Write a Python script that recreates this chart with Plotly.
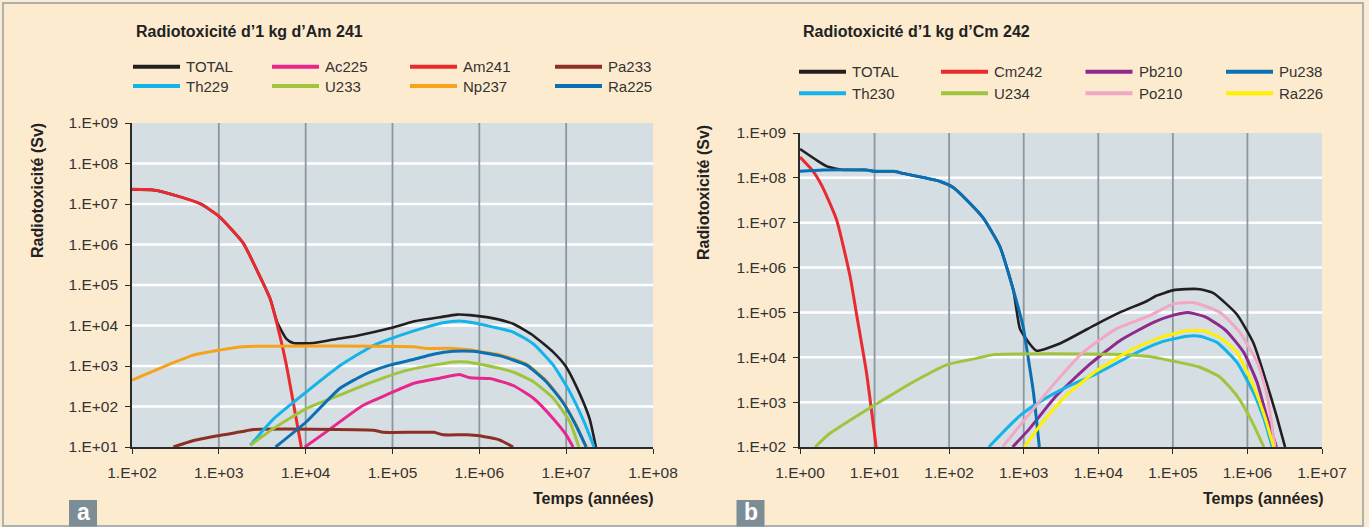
import math
import plotly.graph_objects as go

W, H = 1369, 527

# ---------------- Panel a : 1 kg Am 241 ----------------
A_TITLE = "Radiotoxicité d’1 kg d’Am 241"
A_XTICKS = [1e2, 1e3, 1e4, 1e5, 1e6, 1e7, 1e8]
A_XLABELS = ["1.E+02", "1.E+03", "1.E+04", "1.E+05", "1.E+06", "1.E+07", "1.E+08"]
A_YTICKS = [1e1, 1e2, 1e3, 1e4, 1e5, 1e6, 1e7, 1e8, 1e9]
A_YLABELS = ["1.E+01", "1.E+02", "1.E+03", "1.E+04", "1.E+05", "1.E+06", "1.E+07", "1.E+08", "1.E+09"]

A_TOTAL_t = [1.0e2, 1.8e2, 3.6e2, 6.2e2, 1.0e3, 1.9e3, 2.75e3, 3.9e3, 4.7e3, 6.0e3, 7.2e3, 1.23e4, 2.1e4,
             3.9e4, 9.3e4, 1.74e5, 3.5e5, 5.5e5, 7.8e5, 1.45e6, 2.45e6, 4.2e6, 7.1e6, 1.0e7, 1.4e7, 1.86e7, 2.2e7]
A_TOTAL_v = [2.3e7, 2.2e7, 1.5e7, 1.0e7, 5.0e6, 1.1e6, 2.3e5, 4.6e4, 1.2e4, 4.7e3, 3.7e3, 3.7e3, 4.5e3,
             5.6e3, 8.5e3, 1.26e4, 1.6e4, 1.86e4, 1.8e4, 1.5e4, 1.1e4, 5.6e3, 2.2e3, 9.5e2, 2.3e2, 50, 10]

A_AC225_t = [9.8e3, 1.74e4, 4.6e4, 9.3e4, 1.74e5, 3.5e5, 5.9e5, 7.8e5, 1.32e6, 2.45e6, 4.2e6, 7.1e6, 1.0e7, 1.2e7]
A_AC225_v = [10, 24, 107, 210, 370, 500, 620, 510, 490, 330, 160, 50, 20, 10]

A_AM241_t = [1.0e2, 1.8e2, 3.6e2, 6.2e2, 1.0e3, 1.9e3, 2.75e3, 3.9e3, 5.1e3, 6.0e3, 8.9e3]
A_AM241_v = [2.3e7, 2.2e7, 1.5e7, 1.0e7, 5.0e6, 1.1e6, 2.3e5, 4.5e4, 5.1e3, 1.05e3, 10]

A_PA233_t = [3.0e2, 4.6e2, 9.3e2, 1.86e3, 2.5e3, 6.0e4, 7.8e4, 3.0e5, 3.8e5, 7.1e5, 1.0e6, 1.7e6, 2.45e6]
A_PA233_v = [10, 13.5, 18.6, 24, 27, 26, 23, 23, 20, 20, 19, 15, 10]

A_TH229_t = [2.3e3, 4.3e3, 1.02e4, 2.45e4, 6.0e4, 1.2e5, 2.45e5, 3.8e5, 5.9e5, 8.5e5, 1.45e6, 2.45e6,
             4.2e6, 7.1e6, 1.1e7, 1.55e7, 2.1e7]
A_TH229_v = [11, 50, 230, 1.0e3, 3.2e3, 5.6e3, 9.1e3, 1.17e4, 1.29e4, 1.17e4, 9.1e3, 6.9e3,
             3.5e3, 1.05e3, 230, 50, 10]

A_U233_t = [2.3e3, 4.3e3, 1.02e4, 2.45e4, 6.0e4, 1.45e5, 2.95e5, 5.0e5, 7.1e5, 1.1e6, 2.45e6, 4.2e6,
            7.1e6, 1.1e7, 1.4e7]
A_U233_v = [11, 29, 89, 190, 410, 780, 1.05e3, 1.26e3, 1.26e3, 1.07e3, 710, 410, 160, 42, 10]

A_NP237_t = [1.0e2, 2.9e2, 5.1e2, 1.0e3, 1.9e3, 1.74e5, 2.45e5, 4.2e5, 8.5e5, 1.1e6, 1.7e6, 3.5e6,
             5.9e6, 9.1e6, 1.29e7, 1.7e7]
A_NP237_v = [450, 1.17e3, 1.86e3, 2.45e3, 3.0e3, 3.0e3, 2.7e3, 2.75e3, 2.45e3, 2.2e3, 1.9e3, 1.1e3,
             430, 135, 36, 10]

A_RA225_t = [4.5e3, 1.02e4, 2.45e4, 5.0e4, 9.3e4, 1.74e5, 2.95e5, 5.0e5, 8.5e5, 1.7e6, 3.5e6, 5.9e6,
             9.1e6, 1.29e7, 1.7e7]
A_RA225_v = [10, 42, 275, 650, 1.05e3, 1.45e3, 1.95e3, 2.3e3, 2.3e3, 1.8e3, 1.05e3, 410, 129, 35, 10]

A_NAMES = ["TOTAL", "Ac225", "Am241", "Pa233", "Th229", "U233", "Np237", "Ra225"]
A_COLORS = ["#231f20", "#e8268e", "#ea2a2f", "#8e2f25", "#14b4ea", "#a1c43e", "#f7a21b", "#0b6fb3"]
A_SERIES = [(A_TOTAL_t, A_TOTAL_v), (A_AC225_t, A_AC225_v), (A_AM241_t, A_AM241_v), (A_PA233_t, A_PA233_v),
            (A_TH229_t, A_TH229_v), (A_U233_t, A_U233_v), (A_NP237_t, A_NP237_v), (A_RA225_t, A_RA225_v)]

# ---------------- Panel b : 1 kg Cm 242 ----------------
B_TITLE = "Radiotoxicité d’1 kg d’Cm 242"
B_XTICKS = [1e0, 1e1, 1e2, 1e3, 1e4, 1e5, 1e6, 1e7]
B_XLABELS = ["1.E+00", "1.E+01", "1.E+02", "1.E+03", "1.E+04", "1.E+05", "1.E+06", "1.E+07"]
B_YTICKS = [1e2, 1e3, 1e4, 1e5, 1e6, 1e7, 1e8, 1e9]
B_YLABELS = ["1.E+02", "1.E+03", "1.E+04", "1.E+05", "1.E+06", "1.E+07", "1.E+08", "1.E+09"]

B_TOTAL_t = [1, 1.6, 2.3, 3.8, 7.8, 10, 18, 24, 45, 76, 112, 209, 288, 479, 724, 891, 1.2e3, 1.48e3, 3.0e3,
             9.5e3, 1.95e4, 4.5e4, 6.0e4, 1.0e5, 1.5e5, 2.3e5, 3.5e5, 7.2e5, 1.2e6, 1.8e6, 2.45e6, 3.2e6]
B_TOTAL_v = [4.4e8, 2.6e8, 1.8e8, 1.5e8, 1.5e8, 1.4e8, 1.4e8, 1.26e8, 1.02e8, 8.3e7, 6.2e7, 2.3e7, 1.26e7,
             2.95e6, 3.2e5, 4.3e4, 2.0e4, 1.4e4, 2.0e4, 5.5e4, 1.0e5, 1.8e5, 2.35e5, 3.1e5, 3.3e5, 3.3e5,
             2.7e5, 9.1e4, 2.1e4, 2.75e3, 500, 100]

B_CM242_t = [1, 1.5, 2.0, 3.1, 4.7, 5.8, 7.8, 10.5]
B_CM242_v = [2.9e8, 1.4e8, 6.3e7, 1.15e7, 6.3e5, 8.1e4, 4.5e3, 100]

B_PB210_t = [7.1e2, 1.2e3, 2.75e3, 7.8e3, 1.95e4, 5.5e4, 1.02e5, 1.6e5, 2.8e5, 5.2e5, 8.9e5, 1.35e6, 1.8e6, 2.45e6]
B_PB210_v = [100, 257, 1.4e3, 7.1e3, 2.35e4, 6.0e4, 8.7e4, 1.0e5, 7.8e4, 3.9e4, 1.29e4, 2.75e3, 500, 100]

B_PU238_t = [1, 2.0, 7.8, 10, 18, 24, 45, 76, 112, 209, 288, 479, 724, 980, 1.12e3, 1.35e3, 1.62e3]
B_PU238_v = [1.4e8, 1.5e8, 1.5e8, 1.4e8, 1.4e8, 1.26e8, 1.02e8, 8.3e7, 6.2e7, 2.3e7, 1.26e7, 2.95e6,
             3.2e5, 4.9e4, 1.26e4, 1.66e3, 100]

B_TH230_t = [3.4e2, 4.8e2, 8.9e2, 1.62e3, 3.4e3, 9.5e3, 2.95e4, 6.8e4, 1.55e5, 2.3e5, 3.9e5, 7.2e5,
             1.2e6, 1.66e6, 2.15e6]
B_TH230_v = [100, 182, 500, 1.0e3, 2.0e3, 4.3e3, 1.17e4, 2.15e4, 2.95e4, 2.95e4, 2.15e4, 7.8e3,
             1.66e3, 430, 100]

B_U234_t = [1.6, 2.45, 6.3, 16, 32, 93, 209, 410, 1.45e4, 4.5e4, 7.4e4, 2.3e5, 4.3e5, 7.2e5, 1.1e6, 1.66e6]
B_U234_v = [100, 195, 540, 1.38e3, 2.75e3, 6.8e3, 9.1e3, 1.15e4, 1.17e4, 1.05e4, 9.1e3, 6.0e3, 3.6e3,
            1.4e3, 430, 100]

B_PO210_t = [5.2e2, 8.9e2, 2.25e3, 6.3e3, 1.74e4, 4.9e4, 1.02e5, 1.86e5, 4.3e5, 7.9e5, 1.35e6, 1.8e6, 2.35e6]
B_PO210_v = [100, 300, 2.0e3, 1.3e4, 4.3e4, 8.5e4, 1.55e5, 1.66e5, 1.0e5, 3.6e4, 7.8e3, 1.66e3, 100]

B_RA226_t = [1.02e3, 1.8e3, 3.7e3, 9.5e3, 2.95e4, 6.8e4, 1.55e5, 2.6e5, 4.3e5, 7.2e5, 1.2e6, 1.74e6, 2.25e6]
B_RA226_v = [100, 360, 1.4e3, 5.0e3, 1.55e4, 2.75e4, 3.9e4, 3.9e4, 2.75e4, 1.29e4, 2.35e3, 430, 100]

B_NAMES = ["TOTAL", "Cm242", "Pb210", "Pu238", "Th230", "U234", "Po210", "Ra226"]
B_COLORS = ["#231f20", "#ea2a2f", "#8f2a8c", "#0b6fb3", "#14b4ea", "#a1c43e", "#f2a7c5", "#fff000"]
B_SERIES = [(B_TOTAL_t, B_TOTAL_v), (B_CM242_t, B_CM242_v), (B_PB210_t, B_PB210_v), (B_PU238_t, B_PU238_v),
            (B_TH230_t, B_TH230_v), (B_U234_t, B_U234_v), (B_PO210_t, B_PO210_v), (B_RA226_t, B_RA226_v)]

Y_TITLE = "Radiotoxicité (Sv)"
X_TITLE = "Temps (années)"
PANEL_TAGS = ["a", "b"]

# ---------------- styling ----------------
CREAM = "#fdebd0"
PLOTBG = "#d5dee3"
VGRID = "#8b989f"
TXT = "#333333"
FONT = "Liberation Sans, Arial, sans-serif"
BORDER = "#8fa0aa"


def px(x):
    return x / W


def py(y):
    return 1 - y / H


fig = go.Figure()

for (t, v), name, col in zip(A_SERIES, A_NAMES, A_COLORS):
    fig.add_trace(go.Scatter(x=t, y=v, mode="lines", name=name, xaxis="x", yaxis="y", showlegend=False,
                             line=dict(color=col, width=2.6 if name == "TOTAL" else 3.0,
                                       shape="spline", smoothing=0.5)))
for (t, v), name, col in zip(B_SERIES, B_NAMES, B_COLORS):
    fig.add_trace(go.Scatter(x=t, y=v, mode="lines", name=name, xaxis="x2", yaxis="y2", showlegend=False,
                             line=dict(color=col, width=2.6 if name == "TOTAL" else 3.0,
                                       shape="spline", smoothing=0.5)))

# plot areas in pixels
A_BOX = (132, 653, 123, 447)
B_BOX = (800, 1322, 133, 447)

axis_common = dict(type="log", showgrid=False, zeroline=False, showline=True, linecolor="#2b2b2b",
                   linewidth=1.6, ticks="outside", ticklen=5, tickwidth=1.4, tickcolor="#2b2b2b",
                   tickmode="array", tickfont=dict(family=FONT, size=15.5, color=TXT), mirror=False,
                   automargin=False)

fig.update_layout(
    template="none",
    width=W, height=H, margin=dict(l=0, r=0, t=0, b=0, pad=0), autosize=False,
    paper_bgcolor=CREAM, plot_bgcolor=PLOTBG, showlegend=False,
    xaxis=dict(axis_common, domain=[px(A_BOX[0]), px(A_BOX[1])], anchor="y",
               range=[math.log10(A_XTICKS[0]), math.log10(A_XTICKS[-1])],
               tickvals=A_XTICKS, ticktext=A_XLABELS, ticklabelstandoff=6),
    yaxis=dict(axis_common, domain=[py(A_BOX[3]), py(A_BOX[2])], anchor="x",
               range=[math.log10(A_YTICKS[0]), math.log10(A_YTICKS[-1])],
               tickvals=A_YTICKS, ticktext=A_YLABELS, ticklabelstandoff=4),
    xaxis2=dict(axis_common, domain=[px(B_BOX[0]), px(B_BOX[1])], anchor="y2",
                range=[math.log10(B_XTICKS[0]), math.log10(B_XTICKS[-1])],
                tickvals=B_XTICKS, ticktext=B_XLABELS, ticklabelstandoff=6),
    yaxis2=dict(axis_common, domain=[py(B_BOX[3]), py(B_BOX[2])], anchor="x2",
                range=[math.log10(B_YTICKS[0]), math.log10(B_YTICKS[-1])],
                tickvals=B_YTICKS, ticktext=B_YLABELS, ticklabelstandoff=4),
)

shapes = []
# outer border
shapes.append(dict(type="rect", xref="paper", yref="paper", x0=px(3), x1=px(1363), y0=py(526), y1=py(3),
                   line=dict(color=BORDER, width=1.5), fillcolor="rgba(0,0,0,0)", layer="below"))

# gridlines at interior ticks (shapes on log axes take data values)
for xr, yr, xt, yt in (("x", "y", A_XTICKS, A_YTICKS), ("x2", "y2", B_XTICKS, B_YTICKS)):
    for v in yt[1:-1]:
        shapes.append(dict(type="line", xref=xr + " domain", yref=yr, x0=0, x1=1,
                           y0=v, y1=v, line=dict(color="white", width=2.5), layer="below"))
    for v in xt[1:-1]:
        shapes.append(dict(type="line", xref=xr, yref=yr + " domain", y0=0, y1=1,
                           x0=v, x1=v, line=dict(color=VGRID, width=1.8), layer="below"))

annotations = []

# titles
annotations.append(dict(text=A_TITLE, xref="paper", yref="paper", x=px(134), y=py(31), xanchor="left",
                        yanchor="middle", showarrow=False, font=dict(family=FONT, size=16, color="#222",
                                                                    weight="bold")))
annotations.append(dict(text=B_TITLE, xref="paper", yref="paper", x=px(801), y=py(32), xanchor="left",
                        yanchor="middle", showarrow=False, font=dict(family=FONT, size=16, color="#222",
                                                                    weight="bold")))

# manual legends (4 columns x 2 rows)
LEG = [
    (A_NAMES, A_COLORS, [133, 272, 410, 555], [66.7, 86.0]),
    (B_NAMES, B_COLORS, [799, 941, 1085.5, 1226], [71.7, 93.3]),
]
for names, cols, xs, ys in LEG:
    for i, (n, c) in enumerate(zip(names, cols)):
        r, k = divmod(i, 4)
        x0 = xs[k]
        yy = ys[r]
        shapes.append(dict(type="line", xref="paper", yref="paper", x0=px(x0), x1=px(x0 + 47),
                           y0=py(yy), y1=py(yy), line=dict(color=c, width=4)))
        annotations.append(dict(text=n, xref="paper", yref="paper", x=px(x0 + 51), y=py(yy),
                                xanchor="left", yanchor="middle", showarrow=False,
                                font=dict(family=FONT, size=15, color=TXT)))

# axis titles
for xc, yc in ((37, 191), (703.5, 192.5)):
    annotations.append(dict(text=Y_TITLE, xref="paper", yref="paper", x=px(xc), y=py(yc), textangle=-90,
                            xanchor="center", yanchor="middle", showarrow=False,
                            font=dict(family=FONT, size=16, color="#222", weight="bold")))
for xr in (656, 1326):
    annotations.append(dict(text=X_TITLE, xref="paper", yref="paper", x=px(xr), y=py(498), xanchor="right",
                            yanchor="middle", showarrow=False,
                            font=dict(family=FONT, size=16, color="#222", weight="bold")))

# panel tags
for tag, x0 in zip(PANEL_TAGS, (69, 736.5)):
    shapes.append(dict(type="rect", xref="paper", yref="paper", x0=px(x0), x1=px(x0 + 28), y0=py(526.5),
                       y1=py(500), line=dict(width=0), fillcolor="#7d8d96"))
    annotations.append(dict(text=tag, xref="paper", yref="paper", x=px(x0 + 14), y=py(512), xanchor="center",
                            yanchor="middle", showarrow=False,
                            font=dict(family=FONT, size=23, color="white", weight="bold")))

fig.update_layout(shapes=shapes, annotations=annotations)
fig.write_html("out.html",
               post_script="document.body.style.margin='0';document.body.style.padding='0';"
                           "document.body.style.overflow='hidden';")
